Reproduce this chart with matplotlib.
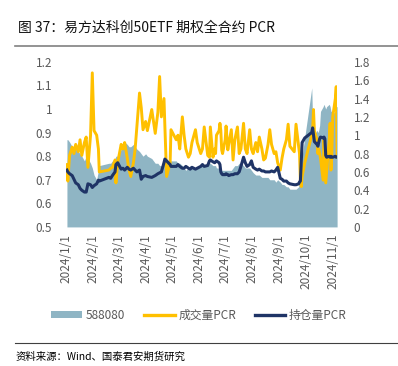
import matplotlib
matplotlib.use("Agg")
import matplotlib.pyplot as plt
from matplotlib.patches import Patch
from matplotlib.lines import Line2D
import pandas as pd

plt.rcParams['font.family'] = ['Noto Sans CJK SC', 'DejaVu Sans']

dates = [
    "2024-01-02", "2024-01-03", "2024-01-05", "2024-01-08", "2024-01-10", "2024-01-12", "2024-01-15",
    "2024-01-17", "2024-01-19", "2024-01-22", "2024-01-24", "2024-01-26", "2024-01-29", "2024-01-31",
    "2024-02-02", "2024-02-05", "2024-02-07", "2024-02-08", "2024-02-19", "2024-02-21", "2024-02-23",
    "2024-02-26", "2024-02-27", "2024-02-29",
    "2024-03-04", "2024-03-06", "2024-03-08", "2024-03-11", "2024-03-13", "2024-03-15", "2024-03-18",
    "2024-03-20", "2024-03-22", "2024-03-25", "2024-03-27", "2024-03-29",
    "2024-04-01", "2024-04-03", "2024-04-08", "2024-04-10", "2024-04-12", "2024-04-15", "2024-04-17",
    "2024-04-19", "2024-04-22", "2024-04-23", "2024-04-25", "2024-04-29", "2024-04-30",
    "2024-05-06", "2024-05-08", "2024-05-10", "2024-05-13", "2024-05-15", "2024-05-17", "2024-05-20",
    "2024-05-22", "2024-05-24", "2024-05-28", "2024-05-30",
    "2024-06-03", "2024-06-05", "2024-06-07", "2024-06-11", "2024-06-13", "2024-06-14", "2024-06-17",
    "2024-06-19", "2024-06-20", "2024-06-21", "2024-06-24", "2024-06-25", "2024-06-26", "2024-06-27",
    "2024-06-28",
    "2024-07-01", "2024-07-02", "2024-07-04", "2024-07-05", "2024-07-08", "2024-07-10", "2024-07-12",
    "2024-07-15", "2024-07-17", "2024-07-19", "2024-07-22", "2024-07-24", "2024-07-26", "2024-07-29",
    "2024-07-31",
    "2024-08-02", "2024-08-05", "2024-08-07", "2024-08-09", "2024-08-12", "2024-08-14", "2024-08-16",
    "2024-08-19", "2024-08-21", "2024-08-23", "2024-08-26", "2024-08-28", "2024-08-30",
    "2024-09-02", "2024-09-04", "2024-09-06", "2024-09-09", "2024-09-11", "2024-09-13", "2024-09-18",
    "2024-09-20", "2024-09-23", "2024-09-24", "2024-09-25", "2024-09-26", "2024-09-27", "2024-09-30",
    "2024-10-08", "2024-10-09", "2024-10-10", "2024-10-11", "2024-10-14", "2024-10-15", "2024-10-16",
    "2024-10-17", "2024-10-18", "2024-10-21", "2024-10-22", "2024-10-23", "2024-10-24", "2024-10-25",
    "2024-10-28", "2024-10-29", "2024-10-30", "2024-10-31",
    "2024-11-01", "2024-11-04", "2024-11-05", "2024-11-06",
]

etf_588080 = [
    0.87, 0.87, 0.86, 0.84, 0.84, 0.83, 0.82, 0.81, 0.80, 0.78, 0.80, 0.79, 0.77, 0.75,
    0.72, 0.70, 0.74, 0.76, 0.77, 0.77, 0.78, 0.79, 0.80, 0.80,
    0.83, 0.84, 0.86, 0.85, 0.84, 0.84, 0.85, 0.84, 0.83, 0.82, 0.81, 0.80,
    0.81, 0.80, 0.79, 0.78, 0.77, 0.77, 0.76, 0.76, 0.77, 0.78, 0.77, 0.78, 0.78,
    0.78, 0.77, 0.77, 0.76, 0.75, 0.74, 0.75, 0.76, 0.75, 0.75, 0.75,
    0.76, 0.76, 0.76, 0.77, 0.77, 0.77, 0.76, 0.76, 0.76, 0.75, 0.75, 0.75, 0.74, 0.74, 0.74,
    0.74, 0.74, 0.74, 0.74, 0.74, 0.75, 0.76, 0.76, 0.77, 0.77, 0.76, 0.75, 0.75, 0.75, 0.74,
    0.73, 0.72, 0.72, 0.72, 0.71, 0.71, 0.71, 0.71, 0.70, 0.70, 0.70, 0.69, 0.70,
    0.69, 0.68, 0.68, 0.67, 0.67, 0.66, 0.66, 0.66, 0.67, 0.70, 0.72, 0.75, 0.80, 0.88,
    1.09, 0.95, 0.92, 0.89, 0.91, 0.90, 0.91, 0.93, 0.99, 1.01, 1.02, 1.01, 1.00, 1.01,
    1.02, 1.01, 0.99, 0.99,
    0.98, 0.99, 1.01, 1.01,
]

volume_pcr = [
    0.68, 0.50, 0.78, 0.87, 0.80, 0.90, 0.82, 0.95, 0.78, 0.92, 0.98, 0.65, 1.00, 1.68,
    1.05, 1.00, 0.85, 0.60, 0.62, 0.64, 0.65, 0.73, 0.48, 0.70,
    0.90, 0.85, 0.92, 0.75, 0.62, 0.55, 0.70, 0.85, 1.10, 1.46, 1.30, 1.06,
    1.15, 1.05, 1.28, 1.15, 1.02, 1.25, 1.64, 1.20, 1.40, 1.10, 0.55, 0.70, 1.06,
    0.95, 1.00, 0.85, 1.20, 1.00, 0.85, 0.76, 0.80, 0.92, 1.06, 0.92,
    0.80, 0.85, 1.09, 0.78, 0.76, 1.09, 0.76, 0.85, 0.80, 1.00, 1.05, 1.13, 1.05, 0.84, 0.80,
    0.95, 1.10, 0.84, 0.90, 1.06, 0.73, 0.95, 1.09, 0.80, 0.85, 1.13, 0.85, 0.80, 1.06, 0.85,
    0.80, 0.92, 0.82, 0.98, 0.85, 0.73, 0.75, 0.90, 1.06, 0.90, 0.80, 0.82, 0.70,
    0.62, 0.75, 0.85, 0.95, 1.12, 0.88, 0.82, 1.12, 0.88, 0.80, 0.51, 0.44, 0.55, 0.70,
    1.00, 1.05, 1.28, 1.05, 0.95, 0.80, 0.85, 0.80, 0.75, 0.51, 0.95, 0.70, 0.48, 0.60,
    0.95, 1.13, 0.62, 0.80,
    1.20, 1.40, 1.53, 0.76,
]

oi_pcr = [
    0.62, 0.60, 0.58, 0.56, 0.52, 0.48, 0.46, 0.42, 0.40, 0.38, 0.38, 0.47, 0.46, 0.43,
    0.45, 0.47, 0.51, 0.50, 0.54, 0.53, 0.56, 0.60, 0.68, 0.70,
    0.63, 0.64, 0.62, 0.65, 0.63, 0.62, 0.64, 0.62, 0.60, 0.62, 0.52, 0.55,
    0.56, 0.55, 0.54, 0.55, 0.56, 0.58, 0.59, 0.60, 0.70, 0.74, 0.72, 0.68, 0.66,
    0.66, 0.68, 0.66, 0.64, 0.64, 0.66, 0.64, 0.63, 0.65, 0.63, 0.64,
    0.66, 0.68, 0.66, 0.67, 0.72, 0.73, 0.71, 0.70, 0.71, 0.72, 0.70, 0.68, 0.60, 0.58, 0.57,
    0.57, 0.58, 0.57, 0.56, 0.57, 0.57, 0.58, 0.58, 0.60, 0.66, 0.76, 0.70, 0.66, 0.68, 0.72,
    0.65, 0.63, 0.62, 0.63, 0.61, 0.61, 0.60, 0.60, 0.60, 0.61, 0.60, 0.62, 0.65,
    0.53, 0.52, 0.50, 0.50, 0.48, 0.47, 0.46, 0.46, 0.47, 0.49, 0.50, 0.72, 0.92, 0.97,
    1.03, 1.08, 1.00, 0.93, 0.90, 0.88, 0.92, 0.96, 0.98, 0.97, 0.98, 0.96, 0.78, 0.76,
    0.77, 0.76, 0.77, 0.76,
    0.76, 0.77, 0.76, 0.76,
]

tick_dates = ["2024-%d-01" % m for m in range(1, 12)]
tick_labels = ["2024/%d/1" % m for m in range(1, 12)]
left_ticks = [0.5, 0.6, 0.7, 0.8, 0.9, 1.0, 1.1, 1.2]
left_labels = ["0.5", "0.6", "0.7", "0.8", "0.9", "1", "1.1", "1.2"]
right_ticks = [0, 0.2, 0.4, 0.6, 0.8, 1.0, 1.2, 1.4, 1.6, 1.8]
right_labels = ["0", "0.2", "0.4", "0.6", "0.8", "1", "1.2", "1.4", "1.6", "1.8"]

AREA_C = "#8FB5C4"
YEL_C = "#FFC000"
NAVY_C = "#1F3466"
GREY = "#595959"

x = pd.to_datetime(dates)

fig = plt.figure(figsize=(3.98, 3.66), dpi=100)
ax = fig.add_axes([0.166, 0.380, 0.681, 0.451])
ax2 = ax.twinx()

ax.fill_between(x, 0.5, etf_588080, color=AREA_C, linewidth=0)
ax2.plot(x, volume_pcr, color=YEL_C, lw=2.1, solid_joinstyle="round")
ax2.plot(x, oi_pcr, color=NAVY_C, lw=2.2, solid_joinstyle="round")

ax.set_ylim(0.5, 1.2)
ax2.set_ylim(0, 1.8)
ax.set_xlim(pd.Timestamp("2024-01-01"), pd.Timestamp("2024-11-06"))

ax.set_yticks(left_ticks)
ax.set_yticklabels(left_labels)
ax2.set_yticks(right_ticks)
ax2.set_yticklabels(right_labels)
ax.set_xticks(pd.to_datetime(tick_dates))
ax.set_xticklabels(tick_labels, rotation=90)

for a in (ax, ax2):
    for s in a.spines.values():
        s.set_visible(False)
    a.tick_params(length=0, colors=GREY, labelsize=8.5)
ax.tick_params(axis="y", pad=10)
ax2.tick_params(axis="y", pad=12)
ax.tick_params(axis="x", pad=5)

handles = [
    Patch(facecolor=AREA_C, edgecolor="none", label="588080"),
    Line2D([], [], color=YEL_C, lw=2.4, label="成交量PCR"),
    Line2D([], [], color=NAVY_C, lw=2.4, label="持仓量PCR"),
]
leg = fig.legend(handles=handles, loc="center", bbox_to_anchor=(0.5, 0.139), ncol=3,
                 frameon=False, fontsize=8.5, handlelength=2.6, handleheight=0.5,
                 columnspacing=1.6, handletextpad=0.3)
for t in leg.get_texts():
    t.set_color(GREY)

fig.text(0.045, 0.925, "图 37：易方达科创50ETF 期权全合约 PCR", fontsize=10,
         color="#111111", ha="left", va="center", fontweight="medium")
fig.add_artist(Line2D([0.038, 1.0], [0.873, 0.873], color="#808080", lw=1.2))
fig.add_artist(Line2D([0.038, 1.0], [0.063, 0.063], color="#404040", lw=0.8))
fig.text(0.04, 0.025, "资料来源：Wind、国泰君安期货研究", fontsize=7.5,
         color="black", ha="left", va="center")

fig.savefig("out.png", dpi=100)
